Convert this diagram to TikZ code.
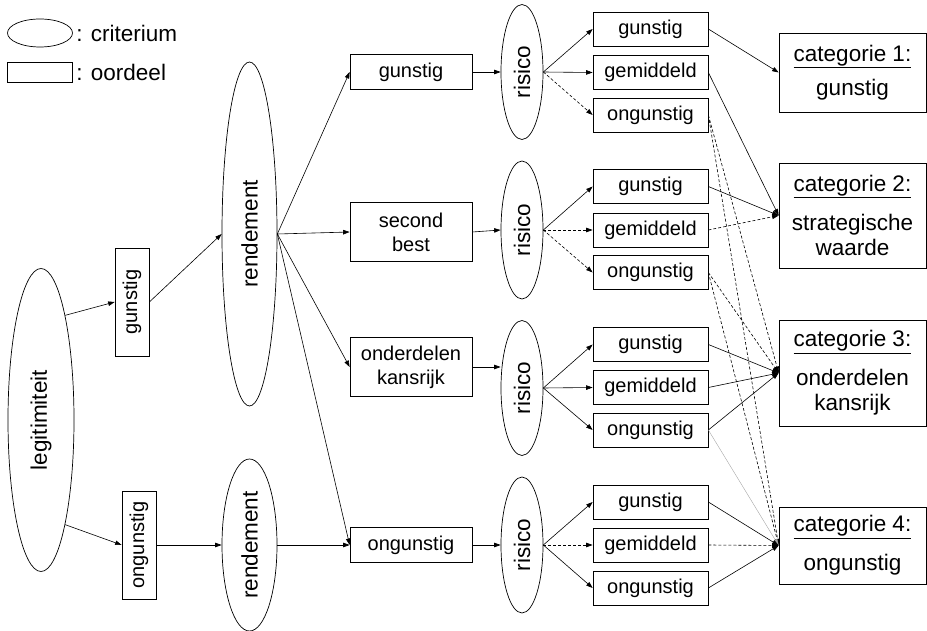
\documentclass[tikz,border=0pt]{standalone}
\usepackage{fontspec}
\setmainfont{Liberation Sans}
\usetikzlibrary{shapes.geometric,arrows.meta}

\newcommand{\boxfont}{\fontsize{20}{24}\selectfont}
\newcommand{\critfont}{\fontsize{22.5}{25}\selectfont}

\begin{document}
\begin{tikzpicture}[x=1pt,y=-1pt,
        >={Triangle[length=6.5pt,width=4.5pt]},
        crit/.style={draw,ellipse,inner sep=0pt,line width=0.7pt,font=\critfont},
        oord/.style={draw,rectangle,inner sep=0pt,line width=0.7pt,font=\boxfont,align=center},
        small/.style={oord,minimum width=115pt,minimum height=34pt},
        cat/.style={draw,rectangle,inner sep=0pt,line width=0.7pt,font=\critfont,align=center,minimum width=147pt},
        arr/.style={->,line width=0.6pt},
        dsh/.style={dash pattern=on 3pt off 2pt}]
        \useasboundingbox (0,0) rectangle (927,631);

        % legenda
        \node[crit,minimum width=65pt,minimum height=28pt] (lcrit) at (40,33) {};
        \node[anchor=west,font=\critfont] (tcrit) at (lcrit.east) {: criterium};
        \node[oord,minimum width=65pt,minimum height=20pt] (loord) at (40,72) {};
        \node[anchor=west,font=\critfont] (toord) at (loord.east) {: oordeel};

        \node[crit,minimum width=66pt,minimum height=303pt] (legit) at (41,420) {\rotatebox{90}{legitimiteit}};
        \node[oord,minimum width=34pt,minimum height=108pt] (lgun) at (132,302) {\rotatebox{90}{gunstig}};
        \node[oord,minimum width=34pt,minimum height=108pt] (lon) at (139,545) {\rotatebox{90}{ongunstig}};
        \draw[arr] (legit.77) -- (lgun.west);
        \draw[arr] (legit.-77) -- (lon.west);

        \node[crit,minimum width=55pt,minimum height=344pt] (rendA) at (249.5,234) {\rotatebox{90}{rendement}};
        \node[crit,minimum width=55pt,minimum height=172pt] (rendB) at (249.5,545) {\rotatebox{90}{rendement}};
        \draw[arr] (lgun.east) -- (rendA.west);
        \draw[arr] (lon.east) -- (rendB.west);

        \node[oord,minimum width=122pt,minimum height=35pt] (mgun) at (411,72) {gunstig};
        \node[oord,minimum width=122pt,minimum height=59pt] (msec) at (411,232) {second\\best};
        \node[oord,minimum width=122pt,minimum height=59pt] (mond) at (411,367) {onderdelen\\kansrijk};
        \node[oord,minimum width=122pt,minimum height=35pt] (mon) at (411,545) {ongunstig};
        \draw[arr] (rendA.east) -- (mgun.west);
        \draw[arr] (rendA.east) -- (msec.west);
        \draw[arr] (rendA.east) -- (mond.west);
        \draw[arr] (rendA.east) -- (mon.west);
        \draw[arr] (rendB.east) -- (mon.west);

        % risico 1
        \node[crit,minimum width=42pt,minimum height=135pt] (ris1) at (522,72) {\rotatebox{90}{risico}};
        \node[small] (gun1) at (650.5,29) {gunstig};
        \node[small] (gem1) at (650.5,72.5) {gemiddeld};
        \node[small] (ong1) at (650.5,115) {ongunstig};
        \draw[arr] (mgun.east) -- (ris1.west);
        \draw[arr] (ris1.east) -- (gun1.west);
        \draw[arr] (ris1.east) -- (gem1.west);
        \draw[arr,dsh] (ris1.east) -- (ong1.west);

        % risico 2
        \node[crit,minimum width=42pt,minimum height=138pt] (ris2) at (522,230) {\rotatebox{90}{risico}};
        \node[small] (gun2) at (650.5,186.5) {gunstig};
        \node[small] (gem2) at (650.5,230) {gemiddeld};
        \node[small] (ong2) at (650.5,272.5) {ongunstig};
        \draw[arr] (msec.east) -- (ris2.west);
        \draw[arr] (ris2.east) -- (gun2.west);
        \draw[arr,dsh] (ris2.east) -- (gem2.west);
        \draw[arr,dsh] (ris2.east) -- (ong2.west);

        % risico 3
        \node[crit,minimum width=42pt,minimum height=135pt] (ris3) at (522,388) {\rotatebox{90}{risico}};
        \node[small] (gun3) at (650.5,344.5) {gunstig};
        \node[small] (gem3) at (650.5,387.5) {gemiddeld};
        \node[small] (ong3) at (650.5,430) {ongunstig};
        \draw[arr] (mond.east) -- (mond.east -| ris3.west);
        \draw[arr] (ris3.east) -- (gun3.west);
        \draw[arr] (ris3.east) -- (gem3.west);
        \draw[arr] (ris3.east) -- (ong3.west);

        % risico 4
        \node[crit,minimum width=42pt,minimum height=136pt] (ris4) at (522,545) {\rotatebox{90}{risico}};
        \node[small] (gun4) at (650.5,502) {gunstig};
        \node[small] (gem4) at (650.5,545) {gemiddeld};
        \node[small] (ong4) at (650.5,588) {ongunstig};
        \draw[arr] (mon.east) -- (ris4.west);
        \draw[arr] (ris4.east) -- (gun4.west);
        \draw[arr,dsh] (ris4.east) -- (gem4.west);
        \draw[arr] (ris4.east) -- (ong4.west);

        % categorieen
        \node[cat,minimum height=79pt] (cat1) at (852.5,72.5) {\underline{categorie 1:}\\[9pt]gunstig};
        \node[cat,minimum height=105pt] (cat2) at (852.5,215.5) {\underline{categorie 2:}\\[14pt]strategische\\waarde};
        \node[cat,minimum height=106pt] (cat3) at (852.5,373) {\underline{categorie 3:}\\[14pt]onderdelen\\kansrijk};
        \node[cat,minimum height=77pt] (cat4) at (852.5,545.5) {\underline{categorie 4:}\\[14pt]ongunstig};

        \draw[arr] (gun1.east) -- (cat1.west);
        \draw[arr] (gem1.east) -- (cat2.west);
        \draw[arr,dsh] (ong1.east) -- (cat3.west);
        \draw[arr,dsh] (ong1.east) -- (cat4.west);

        \draw[arr] (gun2.east) -- (cat2.west);
        \draw[arr,dsh] (gem2.east) -- (cat2.west);
        \draw[arr,dsh] (ong2.east) -- (cat3.west);
        \draw[arr,dsh] (ong2.east) -- (cat4.west);

        \draw[arr] (gun3.east) -- (cat3.west);
        \draw[arr] (gem3.east) -- (cat3.west);
        \draw[arr] (ong3.east) -- (cat3.west);
        \draw[arr,gray!70,line width=0.4pt] (ong3.east) -- (cat4.west);

        \draw[arr] (gun4.east) -- (cat4.west);
        \draw[arr,dsh] (gem4.east) -- (cat4.west);
        \draw[arr] (ong4.east) -- (cat4.west);
    \end{tikzpicture}
\end{document}
